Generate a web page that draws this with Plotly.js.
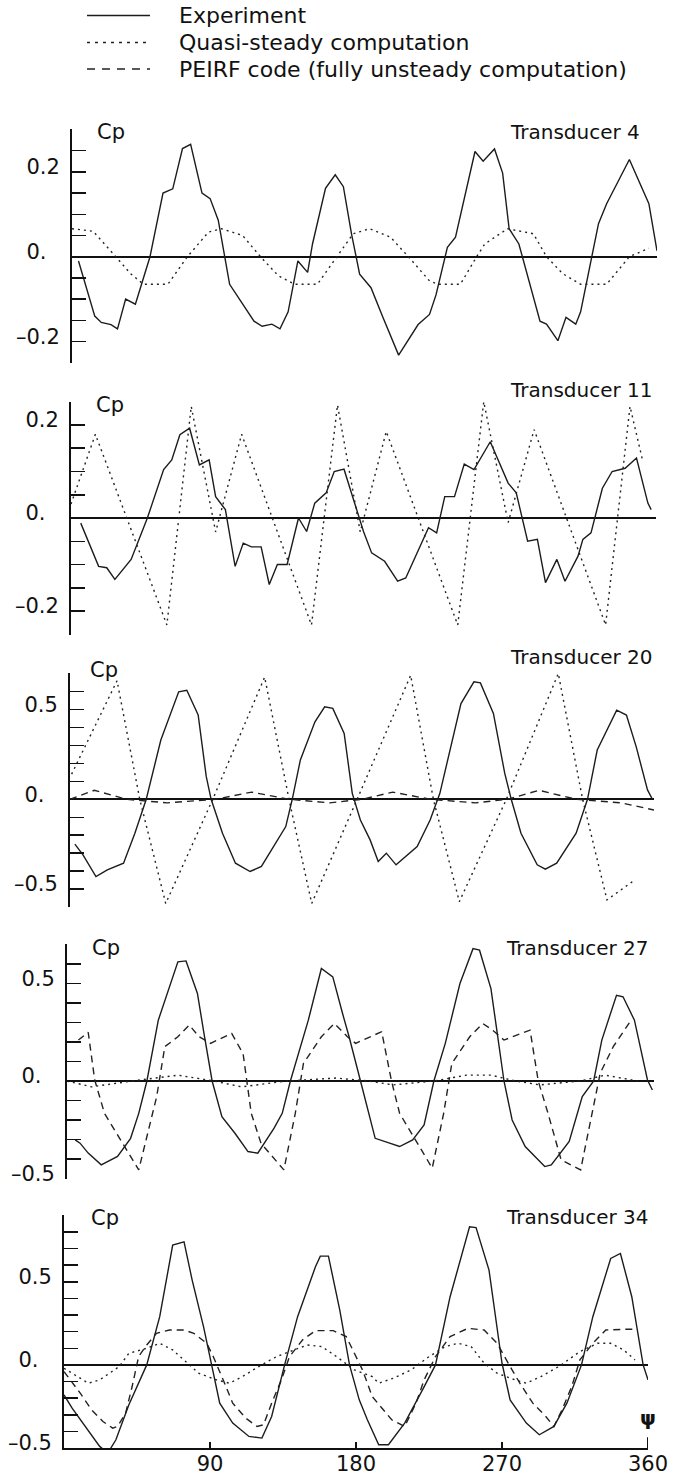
<!DOCTYPE html>
<html>
<head>
<meta charset="utf-8">
<script src="https://cdn.plot.ly/plotly-3.0.1.min.js"></script>
<style>
html,body{margin:0;padding:0;background:#fff;}
#chart{width:679px;height:1477px;}
</style>
</head>
<body>
<div id="chart"></div>
<script>
// ---------------- DATA ----------------
const legendLabels = ['Experiment', 'Quasi-steady computation', 'PEIRF code (fully unsteady computation)'];
const panelTitles = ['Transducer 4', 'Transducer 11', 'Transducer 20', 'Transducer 27', 'Transducer 34'];
const yAxisLabel = 'Cp';
const xAxisLabel = 'ψ';
const xTickVals = [90, 180, 270, 360];
const xTickText = ['90', '180', '270', '360'];

// Transducer 4
const t4ExpPsi = [4, 8, 14, 18, 24, 28, 33, 39, 48, 56, 62, 68, 73, 80, 85, 90, 92, 97, 112, 117, 123, 128, 133, 139, 145, 148, 156, 162, 167, 172, 177, 184, 191, 201, 213, 220, 224, 231, 236, 248, 253, 260, 265, 269, 275, 283, 288, 292, 299, 304, 310, 313, 316, 324, 329, 343, 355, 360];
const t4ExpCp = [-0.01, -0.06, -0.14, -0.155, -0.16, -0.17, -0.10, -0.112, 0.0, 0.15, 0.16, 0.255, 0.265, 0.15, 0.137, 0.086, 0.045, -0.065, -0.152, -0.164, -0.159, -0.17, -0.13, -0.01, -0.037, 0.03, 0.161, 0.193, 0.165, 0.054, -0.041, -0.073, -0.14, -0.232, -0.16, -0.136, -0.09, 0.022, 0.046, 0.248, 0.225, 0.254, 0.197, 0.066, 0.03, -0.081, -0.152, -0.159, -0.198, -0.143, -0.159, -0.13, -0.073, 0.078, 0.125, 0.229, 0.125, 0.014];
const t4QsPsi = [0, 13, 27, 36, 44, 59, 71, 84, 92, 105, 116, 127, 137, 151, 163, 173, 183, 196, 207, 220, 225, 239, 249, 254, 268, 284, 292, 302, 313, 329, 343, 355];
const t4QsCp = [0.066, 0.06, 0, -0.04, -0.065, -0.065, 0, 0.058, 0.066, 0.05, 0, -0.045, -0.065, -0.065, 0, 0.054, 0.066, 0.046, 0, -0.057, -0.065, -0.065, 0, 0.03, 0.066, 0.054, 0, -0.04, -0.065, -0.065, 0.0, 0.02];

// Transducer 11
const t11ExpPsi = [6, 17, 22, 27, 37, 47, 57, 62, 67, 73, 79, 85, 89, 95, 101, 106, 111, 117, 122, 127, 133, 140, 145, 150, 157, 162, 168, 176, 180, 185, 193, 201, 206, 220, 225, 230, 236, 242, 248, 258, 269, 274, 281, 287, 292, 299, 304, 312, 315, 320, 327, 333, 341, 348, 355, 357];
const t11ExpCp = [-0.011, -0.104, -0.107, -0.132, -0.089, 0, 0.104, 0.125, 0.179, 0.193, 0.114, 0.125, 0.046, 0.018, -0.104, -0.054, -0.062, -0.062, -0.143, -0.1, -0.1, 0, -0.029, 0.032, 0.054, 0.1, 0.105, 0.018, -0.029, -0.075, -0.093, -0.136, -0.129, -0.021, -0.032, 0.046, 0.046, 0.116, 0.104, 0.164, 0.075, 0.054, -0.05, -0.046, -0.139, -0.089, -0.136, -0.082, -0.046, -0.032, 0.064, 0.1, 0.107, 0.129, 0.032, 0.018];
const t11QsPsi = [0, 15, 59, 74, 89, 105, 148, 164, 178, 194, 238, 254, 269, 285, 329, 344, 352];
const t11QsCp = [0.03, 0.18, -0.23, 0.24, -0.03, 0.18, -0.23, 0.243, -0.03, 0.186, -0.23, 0.25, -0.01, 0.19, -0.23, 0.24, 0.12];

// Transducer 20
const t20ExpPsi = [3, 8, 16, 23, 33, 40, 47, 56, 67, 72, 79, 84, 87, 94, 102, 111, 118, 133, 137, 142, 151, 157, 162, 169, 174, 179, 185, 190, 195, 201, 214, 222, 228, 241, 249, 253, 261, 268, 272, 278, 288, 293, 300, 312, 319, 325, 337, 343, 349, 356, 359];
const t20ExpCp = [-0.25, -0.309, -0.43, -0.393, -0.356, -0.189, 0, 0.33, 0.598, 0.607, 0.469, 0.126, 0, -0.189, -0.356, -0.402, -0.374, -0.152, 0, 0.219, 0.431, 0.515, 0.506, 0.367, 0.033, -0.115, -0.226, -0.346, -0.3, -0.365, -0.263, -0.115, 0.033, 0.533, 0.654, 0.648, 0.478, 0.144, 0, -0.189, -0.365, -0.389, -0.356, -0.189, 0, 0.274, 0.496, 0.469, 0.293, 0.052, 0];
const t20QsPsi = [1, 29, 43, 59, 88, 120, 135, 149, 177, 210, 224, 240, 269, 301, 316, 331, 348];
const t20QsCp = [0.14, 0.66, 0, -0.58, 0, 0.68, 0, -0.58, 0, 0.69, 0, -0.57, 0, 0.70, 0, -0.56, -0.45];
const t20PfPsi = [0, 15, 35, 60, 90, 112, 135, 160, 180, 199, 222, 250, 270, 289, 312, 340, 360];
const t20PfCp = [0.0, 0.05, 0.0, -0.02, 0.0, 0.04, 0.0, -0.02, 0.0, 0.04, 0.0, -0.02, 0.0, 0.05, 0.0, -0.02, -0.06];

// Transducer 27
const t27ExpPsi = [5, 8, 13, 21, 31, 39, 44, 49, 56, 68, 73, 80, 84, 89, 95, 103, 111, 117, 127, 132, 137, 148, 156, 163, 169, 173, 180, 189, 204, 212, 219, 225, 232, 241, 249, 253, 260, 268, 273, 281, 293, 297, 308, 316, 323, 328, 337, 341, 348, 356, 359];
const t27ExpCp = [-0.302, -0.319, -0.37, -0.43, -0.387, -0.294, -0.166, 0, 0.312, 0.611, 0.616, 0.449, 0.244, 0, -0.183, -0.268, -0.362, -0.37, -0.242, -0.166, 0, 0.312, 0.577, 0.534, 0.346, 0.227, 0, -0.294, -0.336, -0.302, -0.225, 0, 0.193, 0.5, 0.679, 0.671, 0.474, 0, -0.2, -0.336, -0.439, -0.43, -0.31, -0.08, 0, 0.21, 0.44, 0.432, 0.312, 0.005, -0.046];
const t27QsPsi = [0, 15, 40, 68, 90, 107, 135, 165, 185, 200, 225, 245, 260, 275, 290, 315, 330, 350];
const t27QsCp = [0, -0.03, 0, 0.03, 0, -0.03, 0, 0.015, 0, -0.02, 0, 0.03, 0.03, 0, -0.02, 0, 0.03, 0];
const t27PfPsi = [7, 13, 17, 23, 44, 55, 60, 68, 75, 81, 88, 101, 108, 113, 119, 133, 140, 145, 156, 164, 172, 177, 193, 199, 204, 224, 231, 236, 247, 255, 261, 268, 284, 289, 295, 303, 315, 321, 327, 335, 345];
const t27PfCp = [0.21, 0.25, 0.005, -0.166, -0.456, -0.08, 0.176, 0.227, 0.287, 0.227, 0.193, 0.244, 0.14, -0.166, -0.32, -0.456, -0.166, 0.09, 0.227, 0.295, 0.227, 0.193, 0.253, 0, -0.166, -0.447, -0.166, 0.09, 0.227, 0.295, 0.261, 0.21, 0.261, 0, -0.166, -0.404, -0.456, -0.2, 0.04, 0.176, 0.30];

// Transducer 34
const t34ExpPsi = [0, 5, 22, 27, 32, 40, 51, 59, 67, 74, 79, 86, 91, 96, 104, 114, 122, 128, 136, 144, 155, 158, 163, 170, 176, 182, 187, 194, 200, 210, 221, 229, 238, 250, 254, 262, 270, 275, 285, 293, 302, 310, 319, 326, 337, 343, 350, 357, 360];
const t34ExpCp = [-0.18, -0.26, -0.49, -0.53, -0.45, -0.24, 0, 0.29, 0.72, 0.74, 0.51, 0.23, 0, -0.23, -0.35, -0.43, -0.44, -0.31, 0, 0.29, 0.59, 0.654, 0.654, 0.33, 0, -0.21, -0.33, -0.48, -0.48, -0.35, -0.15, 0, 0.41, 0.83, 0.826, 0.57, 0.01, -0.21, -0.35, -0.42, -0.37, -0.23, 0, 0.29, 0.64, 0.67, 0.41, 0, -0.09];
const t34QsPsi = [0, 7, 15, 22, 28, 34, 40, 51, 59, 67, 75, 83, 94, 102, 110, 120, 131, 142, 150, 159, 168, 179, 190, 194, 203, 214, 225, 235, 243, 251, 259, 267, 278, 285, 294, 305, 318, 329, 337, 345, 352];
const t34QsCp = [-0.02, -0.06, -0.11, -0.09, -0.05, -0.01, 0.07, 0.1, 0.13, 0.09, 0.02, -0.05, -0.09, -0.11, -0.07, -0.01, 0.05, 0.09, 0.12, 0.11, 0.05, -0.03, -0.07, -0.11, -0.08, -0.03, 0.05, 0.11, 0.13, 0.11, 0.01, -0.05, -0.09, -0.11, -0.07, -0.01, 0.08, 0.13, 0.13, 0.09, 0.03];
const t34PfPsi = [0, 10, 17, 24, 30, 33, 38, 42, 46, 51, 57, 65, 74, 80, 88, 92, 99, 104, 112, 119, 123, 128, 134, 139, 147, 155, 166, 174, 178, 184, 190, 195, 202, 210, 217, 222, 229, 238, 249, 259, 267, 275, 281, 289, 297, 302, 307, 313, 318, 326, 334, 345, 352];
const t34PfCp = [-0.04, -0.17, -0.27, -0.34, -0.38, -0.37, -0.29, -0.13, 0.05, 0.12, 0.19, 0.21, 0.21, 0.19, 0.13, 0.05, -0.11, -0.23, -0.32, -0.37, -0.36, -0.23, -0.09, 0.05, 0.15, 0.206, 0.206, 0.17, 0.09, -0.03, -0.19, -0.25, -0.33, -0.37, -0.23, -0.09, 0.05, 0.17, 0.22, 0.21, 0.13, -0.01, -0.11, -0.23, -0.31, -0.37, -0.27, -0.13, 0.03, 0.13, 0.21, 0.214, 0.214];

// y-axis tick positions and labels per panel
const t4YTicks = [-0.25, -0.2, -0.15, -0.1, -0.05, 0, 0.05, 0.1, 0.15, 0.2, 0.25, 0.3];
const t11YTicks = [-0.25, -0.2, -0.15, -0.1, -0.05, 0, 0.05, 0.1, 0.15, 0.2, 0.25];
const t20YTicks = [-0.6, -0.5, -0.4, -0.3, -0.2, -0.1, 0, 0.1, 0.2, 0.3, 0.4, 0.5, 0.6, 0.7];
const t27YTicks = [-0.5, -0.4, -0.3, -0.2, -0.1, 0, 0.1, 0.2, 0.3, 0.4, 0.5, 0.6, 0.7];
const t34YTicks = [-0.5, -0.4, -0.3, -0.2, -0.1, 0, 0.1, 0.2, 0.3, 0.4, 0.5, 0.6, 0.7, 0.8, 0.9];
const smallLabelVals = [-0.2, 0, 0.2];
const smallLabelText = ['\u20130.2', '0.\u00A0\u00A0', '0.2'];
const largeLabelVals = [-0.5, 0, 0.5];
const largeLabelText = ['\u20130.5', '0.\u00A0\u00A0', '0.5'];

// ---------------- LAYOUT (pixel geometry) ----------------
const W = 679, H = 1477;
const FONT = 'DejaVu Sans, Arial, sans-serif';
const panels = [
  {x0: 72, x1: 657, top: 129.2, bot: 363.0, range: [-0.25, 0.3], ticks: t4YTicks, lv: smallLabelVals, lt: smallLabelText, titleX: 642, titleY: 131.5, cpX: 95, cpY: 132},
  {x0: 71, x1: 656, top: 401.5, bot: 634.5, range: [-0.25, 0.25], ticks: t11YTicks, lv: smallLabelVals, lt: smallLabelText, titleX: 655, titleY: 390, cpX: 94, cpY: 405},
  {x0: 70, x1: 654, top: 673.3, bot: 907.3, range: [-0.6, 0.7], ticks: t20YTicks, lv: largeLabelVals, lt: largeLabelText, titleX: 655, titleY: 657, cpX: 88, cpY: 670},
  {x0: 67, x1: 654, top: 944.3, bot: 1178.7, range: [-0.5, 0.7], ticks: t27YTicks, lv: largeLabelVals, lt: largeLabelText, titleX: 651, titleY: 948, cpX: 90, cpY: 948},
  {x0: 64, x1: 648, top: 1215, bot: 1448.3, range: [-0.5, 0.9], ticks: t34YTicks, lv: largeLabelVals, lt: largeLabelText, titleX: 651, titleY: 1217, cpX: 89, cpY: 1218}
];

const series = [
  [{x: t4ExpPsi, y: t4ExpCp, k: 'exp'}, {x: t4QsPsi, y: t4QsCp, k: 'qs'}],
  [{x: t11ExpPsi, y: t11ExpCp, k: 'exp'}, {x: t11QsPsi, y: t11QsCp, k: 'qs'}],
  [{x: t20PfPsi, y: t20PfCp, k: 'pf'}, {x: t20QsPsi, y: t20QsCp, k: 'qs'}, {x: t20ExpPsi, y: t20ExpCp, k: 'exp'}],
  [{x: t27QsPsi, y: t27QsCp, k: 'qs'}, {x: t27PfPsi, y: t27PfCp, k: 'pf'}, {x: t27ExpPsi, y: t27ExpCp, k: 'exp'}],
  [{x: t34QsPsi, y: t34QsCp, k: 'qs'}, {x: t34PfPsi, y: t34PfCp, k: 'pf'}, {x: t34ExpPsi, y: t34ExpCp, k: 'exp'}]
];

const styles = {
  exp: {color: '#1c1c1c', width: 1.4, dash: 'solid'},
  qs: {color: '#222', width: 1.4, dash: '2px,4px'},
  pf: {color: '#222', width: 1.4, dash: '7px,5px'}
};

const px = v => v / W;
const py = v => 1 - v / H;

const data = [];
const layout = {
  width: W, height: H,
  margin: {l: 0, r: 0, t: 0, b: 0, pad: 0},
  paper_bgcolor: '#fff', plot_bgcolor: 'rgba(0,0,0,0)',
  showlegend: false,
  font: {family: FONT, color: '#111', size: 20},
  annotations: [], shapes: []
};

panels.forEach((p, i) => {
  const n = i + 1;
  const xa = 'x' + (n === 1 ? '' : n), ya = 'y' + (n === 1 ? '' : n);
  const xk = 'xaxis' + (n === 1 ? '' : n), yk = 'yaxis' + (n === 1 ? '' : n);
  const last = (n === panels.length);
  series[i].forEach(s => {
    const st = styles[s.k];
    data.push({type: 'scatter', mode: 'lines', x: s.x, y: s.y, xaxis: xa, yaxis: ya,
      line: {color: st.color, width: st.width, dash: st.dash}, hoverinfo: 'skip'});
  });
  const ticktext = p.ticks.map(v => {
    const j = p.lv.findIndex(u => Math.abs(u - v) < 1e-9);
    return j >= 0 ? p.lt[j] : '';
  });
  layout[xk] = {
    domain: [px(p.x0), px(p.x1)], range: [0, 360], anchor: ya,
    showgrid: false, zeroline: false, fixedrange: true,
    showline: last, linecolor: '#111', linewidth: 2,
    ticks: last ? 'inside' : '', ticklen: 6, tickwidth: 1.5, tickcolor: '#111',
    tickmode: 'array', tickvals: last ? xTickVals : [], ticktext: last ? xTickText : [],
    showticklabels: last, tickfont: {family: FONT, size: 21, color: '#111'},
    ticklabelstandoff: -5
  };
  const span = p.range[1] - p.range[0];
  layout[yk] = {
    domain: [py(p.bot), py(p.top)], range: [p.range[0] - span * 0.001, p.range[1] + span * 0.001], anchor: xa,
    showgrid: false, fixedrange: true,
    zeroline: true, zerolinecolor: '#111', zerolinewidth: 2.2,
    showline: true, linecolor: '#111', linewidth: 2,
    ticks: 'inside', ticklen: 14, tickwidth: 1.5, tickcolor: '#111',
    tickmode: 'array', tickvals: p.ticks, ticktext: ticktext,
    tickfont: {family: FONT, size: 21, color: '#111'},
    ticklabelshift: -5, ticklabelstandoff: 6
  };
  layout.annotations.push({xref: 'paper', yref: 'paper', x: px(p.titleX), y: py(p.titleY),
    xanchor: 'right', yanchor: 'middle', showarrow: false, text: panelTitles[i],
    font: {family: FONT, size: 20, color: '#111'}});
  layout.annotations.push({xref: 'paper', yref: 'paper', x: px(p.cpX), y: py(p.cpY),
    xanchor: 'left', yanchor: 'middle', showarrow: false, text: yAxisLabel,
    font: {family: FONT, size: 21, color: '#111'}});
  if (last) {
    layout.shapes.push({type: 'line', xref: xa, yref: ya, x0: 360, x1: 360, y0: p.range[0], y1: p.range[0] + 0.065,
      line: {color: '#111', width: 2}});
    layout.annotations.push({xref: xa, yref: ya, x: 360, y: -0.32, xanchor: 'center', yanchor: 'middle',
      showarrow: false, text: '<b>' + xAxisLabel + '</b>', font: {family: FONT, size: 20, color: '#111'}});
  }
});

// legend drawn as sample lines + text
const legendRows = [15.5, 42.5, 69];
const legendKinds = ['exp', 'qs', 'pf'];
legendRows.forEach((yy, i) => {
  const st = styles[legendKinds[i]];
  layout.shapes.push({type: 'line', xref: 'paper', yref: 'paper', x0: px(87), x1: px(150), y0: py(yy), y1: py(yy),
    line: {color: st.color, width: 1.5, dash: i === 1 ? '3px,5px' : (i === 2 ? '8px,7px' : 'solid')}});
  layout.annotations.push({xref: 'paper', yref: 'paper', x: px(177), y: py(yy), xanchor: 'left', yanchor: 'middle',
    showarrow: false, text: legendLabels[i], font: {family: FONT, size: 22, color: '#111'}});
});

Plotly.newPlot('chart', data, layout, {staticPlot: true, displayModeBar: false});
</script>
</body>
</html>
